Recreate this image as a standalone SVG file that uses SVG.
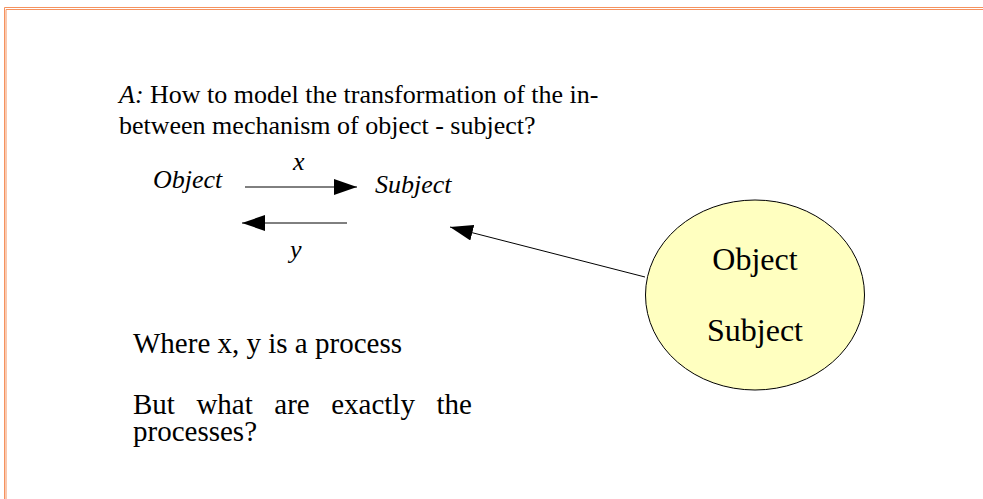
<svg xmlns="http://www.w3.org/2000/svg" width="983" height="499" viewBox="0 0 983 499">
<defs>
<style>
.t{font-family:"Liberation Serif","Times New Roman",serif;fill:#000}
.i{font-style:italic}
.b{stroke:#f5925e;stroke-width:1;fill:none}
.c{stroke:#000;stroke-width:1;fill:none}
</style>
<marker id="ah" markerUnits="userSpaceOnUse" markerWidth="24" markerHeight="16" refX="23" refY="8" orient="auto">
<path d="M0,0 L23,8 L0,16 Z" fill="#000"/>
</marker>
</defs>
<rect width="983" height="499" fill="#fff"/>
<g id="border">
<path class="b" d="M4.5,499 V7.5 H983"/>
<path class="b" d="M6,499 V9.5 H983"/>
</g>
<g id="question">
<text class="t" x="119" y="103" font-size="26"><tspan class="i">A:</tspan> How to model the transformation of the in-</text>
<text class="t" x="119" y="134" font-size="26">between mechanism of object - subject?</text>
</g>
<g id="node-object"><text class="t i" x="153" y="188" font-size="26">Object</text></g>
<g id="node-subject"><text class="t i" x="375" y="193" font-size="26">Subject</text></g>
<g id="label-x"><text class="t i" x="293" y="170" font-size="26">x</text></g>
<g id="label-y"><text class="t i" x="290" y="258" font-size="26">y</text></g>
<g id="node-ellipse">
<ellipse cx="755" cy="295" rx="109.5" ry="95" fill="#ffffc0" stroke="#000" stroke-width="1"/>
<text class="t" x="755" y="270" font-size="32" text-anchor="middle">Object</text>
<text class="t" x="755" y="341" font-size="32" text-anchor="middle">Subject</text>
</g>
<g id="notes">
<text class="t" x="133" y="353" font-size="29">Where x, y is a process</text>
<text class="t" font-size="29"><tspan x="133" y="414">But</tspan><tspan x="196.4" y="414">what</tspan><tspan x="274.3" y="414">are</tspan><tspan x="331.2" y="414">exactly</tspan><tspan x="436.5" y="414">the</tspan><tspan x="133" y="441">processes?</tspan></text>
</g>
<g id="connectors">
<line class="c" x1="245" y1="187" x2="357" y2="187" marker-end="url(#ah)"/>
<line class="c" x1="347" y1="223" x2="242" y2="223" marker-end="url(#ah)"/>
<line class="c" x1="645" y1="277" x2="450" y2="227" marker-end="url(#ah)"/>
</g>
</svg>
